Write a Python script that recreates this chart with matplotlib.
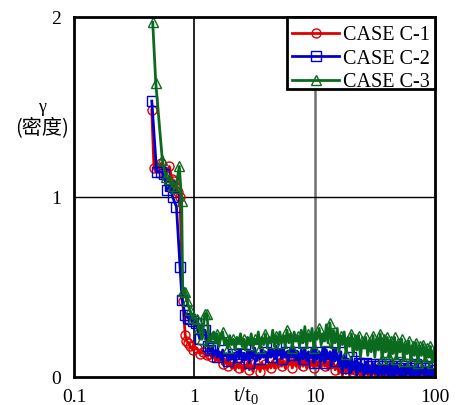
import matplotlib
matplotlib.use("Agg")
import matplotlib.pyplot as plt
from matplotlib.patches import Rectangle

plt.rcParams['font.family'] = ['Liberation Serif', 'DejaVu Serif']
plt.rcParams['mathtext.default'] = 'regular'

# ---- data ----
labels = ["CASE C-1", "CASE C-2", "CASE C-3"]

t_c1_head = [0.443, 0.462, 0.50, 0.53, 0.57, 0.62, 0.65, 0.68, 0.71, 0.73, 0.76,
             0.80, 0.84, 0.86, 0.89, 0.92, 0.98, 1.05, 1.12, 1.19, 1.27, 1.33]
g_c1_head = [1.483, 1.159, 1.16, 1.187, 1.12, 1.17, 1.10, 1.09, 1.05, 1.03, 1.00,
             0.42, 0.233, 0.20, 0.19, 0.17, 0.15, 0.16, 0.13, 0.14, 0.12, 0.13]

t_c2_head = [0.443, 0.486, 0.53, 0.56, 0.59, 0.63, 0.66, 0.71, 0.76, 0.79,
             0.84, 0.88, 0.92, 0.97, 1.03, 1.11, 1.17, 1.23, 1.30, 1.35]
g_c2_head = [1.533, 1.14, 1.14, 1.13, 1.04, 1.06, 1.00, 0.946, 0.613, 0.43,
             0.344, 0.33, 0.32, 0.31, 0.30, 0.21, 0.26, 0.26, 0.17, 0.15]

t_c3_head = [0.451, 0.478, 0.542, 0.58, 0.62, 0.66, 0.70, 0.75, 0.785, 0.80,
             0.83, 0.87, 0.92, 0.97, 1.05, 1.10, 1.16, 1.22, 1.27, 1.33]
g_c3_head = [1.97, 1.635, 1.205, 1.11, 1.10, 1.06, 1.05, 1.17, 0.98, 0.48,
             0.47, 0.42, 0.37, 0.33, 0.32, 0.27, 0.21, 0.35, 0.35, 0.20]

t_tail = [1.40, 1.45, 1.50, 1.55, 1.60, 1.66, 1.72, 1.78, 1.84, 1.90,
          1.97, 2.04, 2.11, 2.18, 2.26, 2.34, 2.42, 2.50, 2.59, 2.68,
          2.77, 2.87, 2.97, 3.07, 3.18, 3.29, 3.40, 3.52, 3.64, 3.77,
          3.90, 4.04, 4.18, 4.33, 4.48, 4.63, 4.79, 4.96, 5.13, 5.31,
          5.50, 5.69, 5.89, 6.09, 6.30, 6.52, 6.75, 6.99, 7.23, 7.48,
          7.74, 8.01, 8.29, 8.58, 8.88, 9.19, 9.51, 9.84, 10.2, 10.5,
          10.9, 11.3, 11.7, 12.1, 12.5, 12.9, 13.4, 13.9, 14.3, 14.8,
          15.4, 15.9, 16.5, 17.0, 17.6, 18.2, 18.9, 19.5, 20.2, 20.9,
          21.7, 22.4, 23.2, 24.0, 24.9, 25.7, 26.6, 27.6, 28.5, 29.5,
          30.6, 31.6, 32.7, 33.9, 35.1, 36.3, 37.6, 38.9, 40.2, 41.6,
          43.1, 44.6, 46.2, 47.8, 49.4, 51.2, 52.9, 54.8, 56.7, 58.7,
          60.7, 62.9, 65.1, 67.3, 69.7, 72.1, 74.6, 77.2, 79.9, 82.7,
          85.6, 88.6, 91.7, 94.9, 98.2]

g_c1_tail = [0.11, 0.13, 0.09, 0.12, 0.08, 0.11, 0.07, 0.10, 0.08, 0.06,
             0.09, 0.05, 0.08, 0.04, 0.07, 0.05, 0.08, 0.03, 0.07, 0.05,
             0.08, 0.04, 0.07, 0.03, 0.08, 0.05, 0.07, 0.03, 0.08, 0.05,
             0.07, 0.04, 0.08, 0.05, 0.09, 0.05, 0.08, 0.06, 0.10, 0.06,
             0.09, 0.05, 0.10, 0.07, 0.09, 0.05, 0.10, 0.06, 0.09, 0.05,
             0.10, 0.06, 0.09, 0.05, 0.11, 0.06, 0.09, 0.05, 0.10, 0.06,
             0.09, 0.05, 0.11, 0.06, 0.09, 0.04, 0.10, 0.05, 0.08, 0.04,
             0.07, 0.02, 0.06, 0.01, 0.05, 0.02, 0.06, 0.01, 0.05, 0.02,
             0.04, 0.01, 0.05, 0.00, 0.04, 0.02, 0.05, 0.01, 0.04, 0.00,
             0.05, 0.01, 0.04, 0.00, 0.03, 0.01, 0.04, 0.00, 0.03, 0.01,
             0.04, 0.00, 0.03, 0.01, 0.04, 0.00, 0.03, 0.01, 0.02, 0.00,
             0.03, 0.01, 0.02, 0.00, 0.03, 0.00, 0.02, 0.01, 0.02, 0.00,
             0.02, 0.00, 0.01, 0.00, 0.02]

g_c2_tail = [0.16, 0.12, 0.15, 0.11, 0.14, 0.10, 0.15, 0.12, 0.13, 0.09,
             0.14, 0.10, 0.13, 0.08, 0.14, 0.11, 0.15, 0.09, 0.13, 0.10,
             0.15, 0.08, 0.14, 0.11, 0.16, 0.09, 0.13, 0.10, 0.15, 0.11,
             0.14, 0.09, 0.16, 0.11, 0.15, 0.10, 0.17, 0.12, 0.15, 0.10,
             0.16, 0.11, 0.14, 0.09, 0.16, 0.12, 0.15, 0.10, 0.14, 0.08,
             0.15, 0.10, 0.16, 0.09, 0.14, 0.11, 0.16, 0.08, 0.15, 0.10,
             0.14, 0.09, 0.16, 0.08, 0.15, 0.10, 0.14, 0.07, 0.16, 0.09,
             0.13, 0.06, 0.14, 0.03, 0.12, 0.05, 0.10, 0.02, 0.11, 0.04,
             0.09, 0.01, 0.08, 0.03, 0.07, 0.00, 0.08, 0.02, 0.06, 0.01,
             0.07, 0.02, 0.06, 0.00, 0.07, 0.01, 0.06, 0.02, 0.07, 0.00,
             0.06, 0.01, 0.07, 0.02, 0.05, 0.00, 0.06, 0.01, 0.07, 0.02,
             0.05, 0.00, 0.06, 0.01, 0.07, 0.00, 0.05, 0.02, 0.06, 0.00,
             0.05, 0.01, 0.06, 0.00, 0.04]

g_c3_tail = [0.22, 0.25, 0.19, 0.24, 0.17, 0.22, 0.25, 0.18, 0.21, 0.16,
             0.23, 0.18, 0.21, 0.15, 0.22, 0.19, 0.24, 0.17, 0.21, 0.15,
             0.22, 0.18, 0.24, 0.16, 0.21, 0.19, 0.25, 0.16, 0.22, 0.18,
             0.24, 0.17, 0.22, 0.19, 0.26, 0.17, 0.23, 0.18, 0.25, 0.19,
             0.23, 0.17, 0.26, 0.19, 0.24, 0.16, 0.25, 0.20, 0.23, 0.17,
             0.26, 0.19, 0.28, 0.17, 0.24, 0.20, 0.27, 0.16, 0.25, 0.21,
             0.27, 0.18, 0.24, 0.20, 0.29, 0.19, 0.30, 0.17, 0.26, 0.19,
             0.27, 0.14, 0.23, 0.18, 0.25, 0.13, 0.22, 0.17, 0.24, 0.12,
             0.21, 0.15, 0.23, 0.11, 0.20, 0.16, 0.22, 0.12, 0.19, 0.14,
             0.23, 0.11, 0.20, 0.15, 0.24, 0.10, 0.21, 0.14, 0.22, 0.11,
             0.20, 0.13, 0.22, 0.10, 0.19, 0.14, 0.21, 0.09, 0.18, 0.13,
             0.20, 0.09, 0.17, 0.12, 0.19, 0.08, 0.17, 0.12, 0.18, 0.09,
             0.16, 0.11, 0.17, 0.08, 0.14]

x_ticks = [0.1, 1, 10, 100]
x_ticklabels = ["0.1", "1", "10", "100"]
y_ticks = [0, 1, 2]
y_ticklabels = ["0", "1", "2"]

# ---- figure ----
W, H = 464, 405
fig = plt.figure(figsize=(W / 100, H / 100), dpi=100)
ax = fig.add_axes([74 / W, 28 / H, 361 / W, 360 / H])

series = [
    (t_c1_head, g_c1_head, g_c1_tail, '#e00000', 'o', 6.5),
    (t_c2_head, g_c2_head, g_c2_tail, '#0000cc', 's', 7.5),
    (t_c3_head, g_c3_head, g_c3_tail, '#0a6a1e', '^', 7.0),
]
handles = []
for (th, gh, gt, col, mk, ms), lab in zip(series, labels):
    n = min(len(t_tail), len(gt))
    x = list(th) + list(t_tail[:n])
    y = list(gh) + list(gt[:n])
    mev = list(range(len(th)))
    for i in range(len(th), len(x)):
        if x[i] < 20:
            if (i - len(th)) % 3 == 0:
                mev.append(i)
        elif x[i] < 35:
            if (i - len(th)) % 2 == 0:
                mev.append(i)
        else:
            mev.append(i)
    h, = ax.plot(x, y, color=col, lw=2.0, marker=mk, ms=ms, mfc='none',
                 mec=col, mew=1.0, markevery=mev, label=lab)
    handles.append(h)

ax.set_xscale('log')
ax.set_xlim(0.1, 100)
ax.set_ylim(0, 2)
ax.set_xticks(x_ticks)
ax.set_xticklabels(x_ticklabels)
ax.set_yticks(y_ticks)
ax.set_yticklabels(y_ticklabels)
ax.minorticks_off()
ax.tick_params(length=0, labelsize=14, pad=9)

ax.axvline(1, color='black', lw=1.2, zorder=0.5)
ax.axvline(10, color='#707070', lw=1.8, zorder=0.5)
ax.axhline(1, color='black', lw=1.0, zorder=0.5)

for s in ax.spines.values():
    s.set_linewidth(2.0)
    s.set_color('black')

# legend frame (box spans x 287..435, y 17..89 px) and legend entries
box = Rectangle((287 / W, 1 - 89 / H), (435 - 287) / W, (89 - 17) / H,
                transform=fig.transFigure, facecolor='white', edgecolor='black',
                lw=2.0, zorder=5)
fig.patches.append(box)
leg = fig.legend(handles=handles, loc='center', bbox_to_anchor=(361 / W, 1 - 59 / H),
                 frameon=False, fontsize=14.5, handlelength=2.3, handletextpad=0.2,
                 labelspacing=0.2, borderpad=0.0)
leg.set_zorder(6)

fig.text(246 / W, 1 - 396 / H, "t/t$_0$", fontsize=15, ha='center', va='center')
fig.text(42 / W, 1 - 108 / H, "γ", fontsize=13, ha='center', va='center')
fig.text(42 / W, 1 - 129 / H, "(密度)", fontsize=14.5, ha='center', va='center',
         family=['Noto Sans CJK SC', 'DejaVu Sans'])

fig.savefig("out.png", dpi=100)
